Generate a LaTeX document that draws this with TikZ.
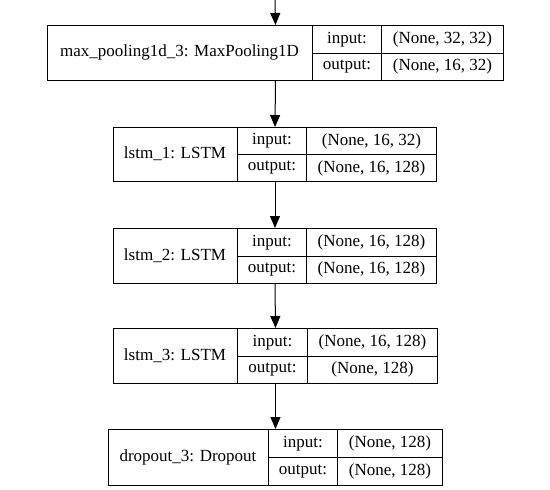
\documentclass[tikz,border=0pt]{standalone}
\usepackage{fontspec}
\setmainfont{Liberation Serif}
\usetikzlibrary{arrows.meta}
\tikzset{
  cellbox/.style={draw=black, line width=1pt, inner sep=0pt, anchor=north west},
  labtext/.style={inner sep=0pt, anchor=center, font=\fontsize{17}{20}\selectfont},
  arr/.style={draw=black, line width=1pt, -{Triangle[length=12pt,width=10pt]}}
}
% #1 name, #2 L, #3 D1, #4 D2, #5 R, #6 T, #7 B, #8 label, #9 input shape
\newcommand{\mylayer}[9]{%
  \pgfmathsetmacro{\mW}{#5-#2}\pgfmathsetmacro{\mH}{#7-#6}%
  \pgfmathsetmacro{\mM}{(#6+#7)/2}%
  \node[cellbox, minimum width=\mW pt, minimum height=\mH pt] (#1) at (#2,#6) {};
  \node[labtext] (#1lab) at ({(#2+#3)/2},{(#6+#7)/2}) {#8};
  \pgfmathsetmacro{\mA}{#4-#3}\pgfmathsetmacro{\mB}{#5-#4}\pgfmathsetmacro{\mh}{(#7-#6)/2}%
  \node[cellbox, minimum width=\mA pt, minimum height=\mh pt] (#1ik) at (#3,#6) {};
  \node[cellbox, minimum width=\mA pt, minimum height=\mh pt] (#1ok) at (#3,\mM) {};
  \node[cellbox, minimum width=\mB pt, minimum height=\mh pt] (#1iv) at (#4,#6) {};
  \node[cellbox, minimum width=\mB pt, minimum height=\mh pt] (#1ov) at (#4,\mM) {};
  \node[labtext] (#1ikt) at (#1ik.center) {input:};
  \node[labtext] (#1okt) at (#1ok.center) {output:};
  \node[labtext] (#1ivt) at (#1iv.center) {#9};
}
\newcommand{\myout}[2]{\node[labtext] (#1ovt) at (#1ov.center) {#2};}
\begin{document}
\begin{tikzpicture}[x=1pt, y=-1pt]
\fill[white] (0,0) rectangle (550,490);
\useasboundingbox (0,0) rectangle (550,490);
\mylayer{mp}{47}{312}{381}{503}{25}{80}{max\_pooling1d\_3: MaxPooling1D}{(None, 32, 32)}
\myout{mp}{(None, 16, 32)}
\mylayer{la}{113}{237}{306}{436}{127}{181}{lstm\_1: LSTM}{(None, 16, 32)}
\myout{la}{(None, 16, 128)}
\mylayer{lb}{113}{237}{306}{436}{228}{283}{lstm\_2: LSTM}{(None, 16, 128)}
\myout{lb}{(None, 16, 128)}
\mylayer{lc}{113}{237}{307}{437}{328}{383}{lstm\_3: LSTM}{(None, 16, 128)}
\myout{lc}{(None, 128)}
\mylayer{dd}{108}{268}{337}{442}{429}{485}{dropout\_3: Dropout}{(None, 128)}
\myout{dd}{(None, 128)}
\coordinate (start) at (275,0);
\draw[arr] (start) -- (mp.north);
\draw[arr] (mp.south) -- (la.north);
\draw[arr] (la.south) -- (lb.north);
\draw[arr] (lb.south) -- (lc.north);
\draw[arr] (lc.south) -- (dd.north);
\end{tikzpicture}
\end{document}
